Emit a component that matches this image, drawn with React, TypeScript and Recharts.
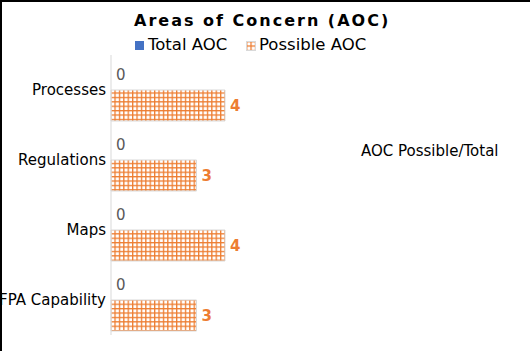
import { BarChart, Bar, XAxis, YAxis, LabelList } from "recharts";

const categories = ["Processes", "Regulations", "Maps", "FPA Capability"];
const totalAoc = [0, 0, 0, 0];
const possibleAoc = [4, 3, 4, 3];

const data = categories.map((name, i) => ({
  name,
  total: totalAoc[i],
  possible: possibleAoc[i],
}));

const FONT = "'DejaVu Sans', sans-serif";
const ORANGE = "#ED7D31";
const BLUE = "#4472C4";

function GridPattern({ id }: { id: string }) {
  return (
    <pattern id={id} width={4.4} height={4.4} patternUnits="userSpaceOnUse">
      <rect width={4.4} height={4.4} fill={ORANGE} />
      <rect x={1.3} y={1.3} width={3.1} height={3.1} fill="#fff" />
    </pattern>
  );
}

// Total AOC bars have zero width, so their labels are placed just above the
// Possible AOC bar of the same category (the slot the zero bar occupies).
const TotalLabel = (props: any) => {
  const { viewBox, value } = props;
  if (!viewBox) return null;
  const { y, height } = viewBox;
  return (
    <text
      x={111 + 5}
      y={y - height / 2}
      dy="0.355em"
      fill="#595959"
      fontSize={15}
      fontFamily={FONT}
    >
      {value}
    </text>
  );
};

export default function App() {
  return (
    <div
      style={{
        position: "absolute",
        left: 0,
        top: 0,
        width: 530,
        height: 351,
        background: "#fff",
        fontFamily: FONT,
        overflow: "hidden",
      }}
    >
      <div
        style={{
          position: "absolute",
          left: 134,
          top: 11,
          fontSize: 16,
          fontWeight: "bold",
          letterSpacing: 2,
          whiteSpace: "nowrap",
          color: "#000",
        }}
      >
        Areas of Concern (AOC)
      </div>

      {/* legend */}
      <div style={{ position: "absolute", left: 135, top: 41, width: 9, height: 9, background: BLUE }} />
      <div style={{ position: "absolute", left: 148, top: 35, fontSize: 16.5, whiteSpace: "nowrap" }}>
        Total AOC
      </div>
      <svg style={{ position: "absolute", left: 246, top: 41 }} width={10} height={10}>
        <defs>
          <GridPattern id="legendGrid" />
        </defs>
        <rect x={0.5} y={0.5} width={9} height={9} fill="url(#legendGrid)" stroke="#d9d9d9" />
      </svg>
      <div style={{ position: "absolute", left: 259, top: 35, fontSize: 16.5, whiteSpace: "nowrap" }}>
        Possible AOC
      </div>

      <div style={{ position: "absolute", left: 361, top: 142, fontSize: 15, whiteSpace: "nowrap" }}>
        AOC Possible/Total
      </div>

      <div style={{ position: "absolute", left: 0, top: 0 }}>
        <BarChart
          width={530}
          height={351}
          data={data}
          layout="vertical"
          margin={{ top: 55, right: 305, bottom: 16, left: 0 }}
          barCategoryGap={4}
          barGap={0}
        >
          <defs>
            <GridPattern id="barGrid" />
          </defs>
          <XAxis type="number" domain={[0, 4]} hide />
          <YAxis
            type="category"
            dataKey="name"
            width={111}
            axisLine={{ stroke: "#d9d9d9" }}
            tickLine={false}
            tickSize={0}
            tickMargin={5}
            tick={{ fontSize: 15, fill: "#000", fontFamily: FONT }}
            interval={0}
          />
          <Bar dataKey="total" fill={BLUE} isAnimationActive={false} />
          <Bar
            dataKey="possible"
            fill="url(#barGrid)"
            stroke="#d9d9d9"
            isAnimationActive={false}
          >
            <LabelList dataKey="total" content={TotalLabel} />
            <LabelList
              dataKey="possible"
              position="right"
              style={{ fill: ORANGE, fontSize: 15, fontWeight: "bold", fontFamily: FONT }}
            />
          </Bar>
        </BarChart>
      </div>

      <div style={{ position: "absolute", left: 0, top: 0, width: 530, height: 2, background: "#000" }} />
      <div style={{ position: "absolute", left: 0, top: 0, width: 2, height: 351, background: "#000" }} />
    </div>
  );
}
